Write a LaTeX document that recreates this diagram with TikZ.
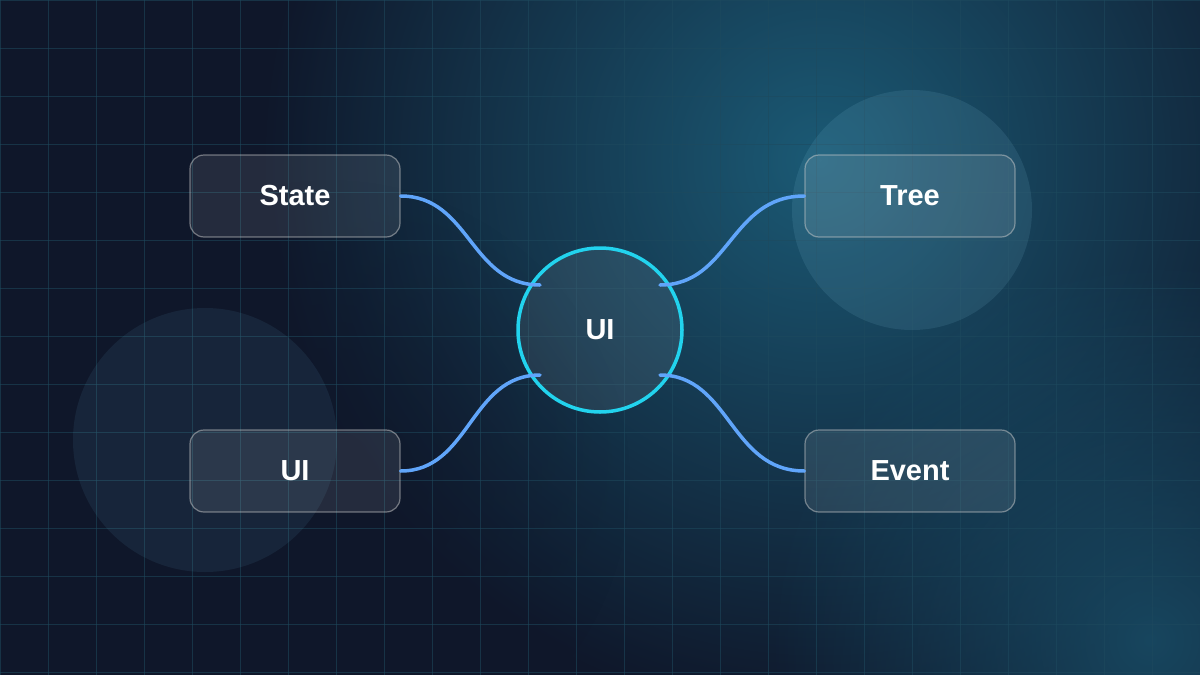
\documentclass[tikz,border=0pt]{standalone}
\usepackage{fontspec}
\setmainfont{Liberation Sans}
\usetikzlibrary{fadings}
\tikzfading[name=softglow, inner color=transparent!0, outer color=transparent!100]
\begin{document}
\begin{tikzpicture}[x=1pt,y=-1pt,
  box/.style={draw=white!60!gray,draw opacity=0.5,line width=1.2pt,fill=white,fill opacity=0.09,text opacity=1,rounded corners=14pt,minimum width=210pt,minimum height=82pt,text=white,font=\bfseries\fontsize{29}{33}\selectfont},
  hub/.style={circle,draw=hubc,line width=3.5pt,fill=white,fill opacity=0.08,text opacity=1,minimum size=164pt,text=white,font=\bfseries\fontsize{29}{33}\selectfont},
  link/.style={draw=linkc,line width=3.5pt,line cap=round}]
\definecolor{bgA}{HTML}{0F172A}
\definecolor{bgB}{HTML}{1B5A75}
\definecolor{hubc}{HTML}{22D3EE}
\definecolor{linkc}{HTML}{60A5FA}
\definecolor{gridc}{HTML}{1E4A5E}
\useasboundingbox (0,0) rectangle (1200,675);
\fill[bgA] (0,0) rectangle (1200,675);
\begin{scope}
\clip (0,0) rectangle (1200,675);
\fill[bgB,path fading=softglow] (820,160) circle (560);
\fill[bgB,path fading=softglow,opacity=0.7] (1150,640) circle (380);
\fill[bgA,path fading=softglow,opacity=0.6] (330,480) circle (300);
\end{scope}
\foreach \x in {0,48,...,1200} \draw[gridc,opacity=0.55,line width=0.6pt] (\x,0) -- (\x,675);
\foreach \y in {0,48,...,672} \draw[gridc,opacity=0.55,line width=0.6pt] (0,\y) -- (1200,\y);
\fill[white!60!cyan,opacity=0.1] (912,210) circle (120);
\fill[white!50!cyan,opacity=0.08] (205,440) circle (132);
\node[box] (state) at (295,196) {State};
\node[box] (tree) at (910,196) {Tree};
\node[box] (ui2) at (295,471) {UI};
\node[box] (event) at (910,471) {Event};
\node[hub] (hub) at (600,330) {UI};
\coordinate (a) at (540,285);
\coordinate (b) at (660,285);
\coordinate (c) at (540,375);
\coordinate (d) at (660,375);
\draw[link] (state.east) .. controls (470,196) and (470,285) .. (a);
\draw[link] (tree.west) .. controls (730,196) and (730,285) .. (b);
\draw[link] (ui2.east) .. controls (470,471) and (470,375) .. (c);
\draw[link] (event.west) .. controls (730,471) and (730,375) .. (d);
\end{tikzpicture}
\end{document}
